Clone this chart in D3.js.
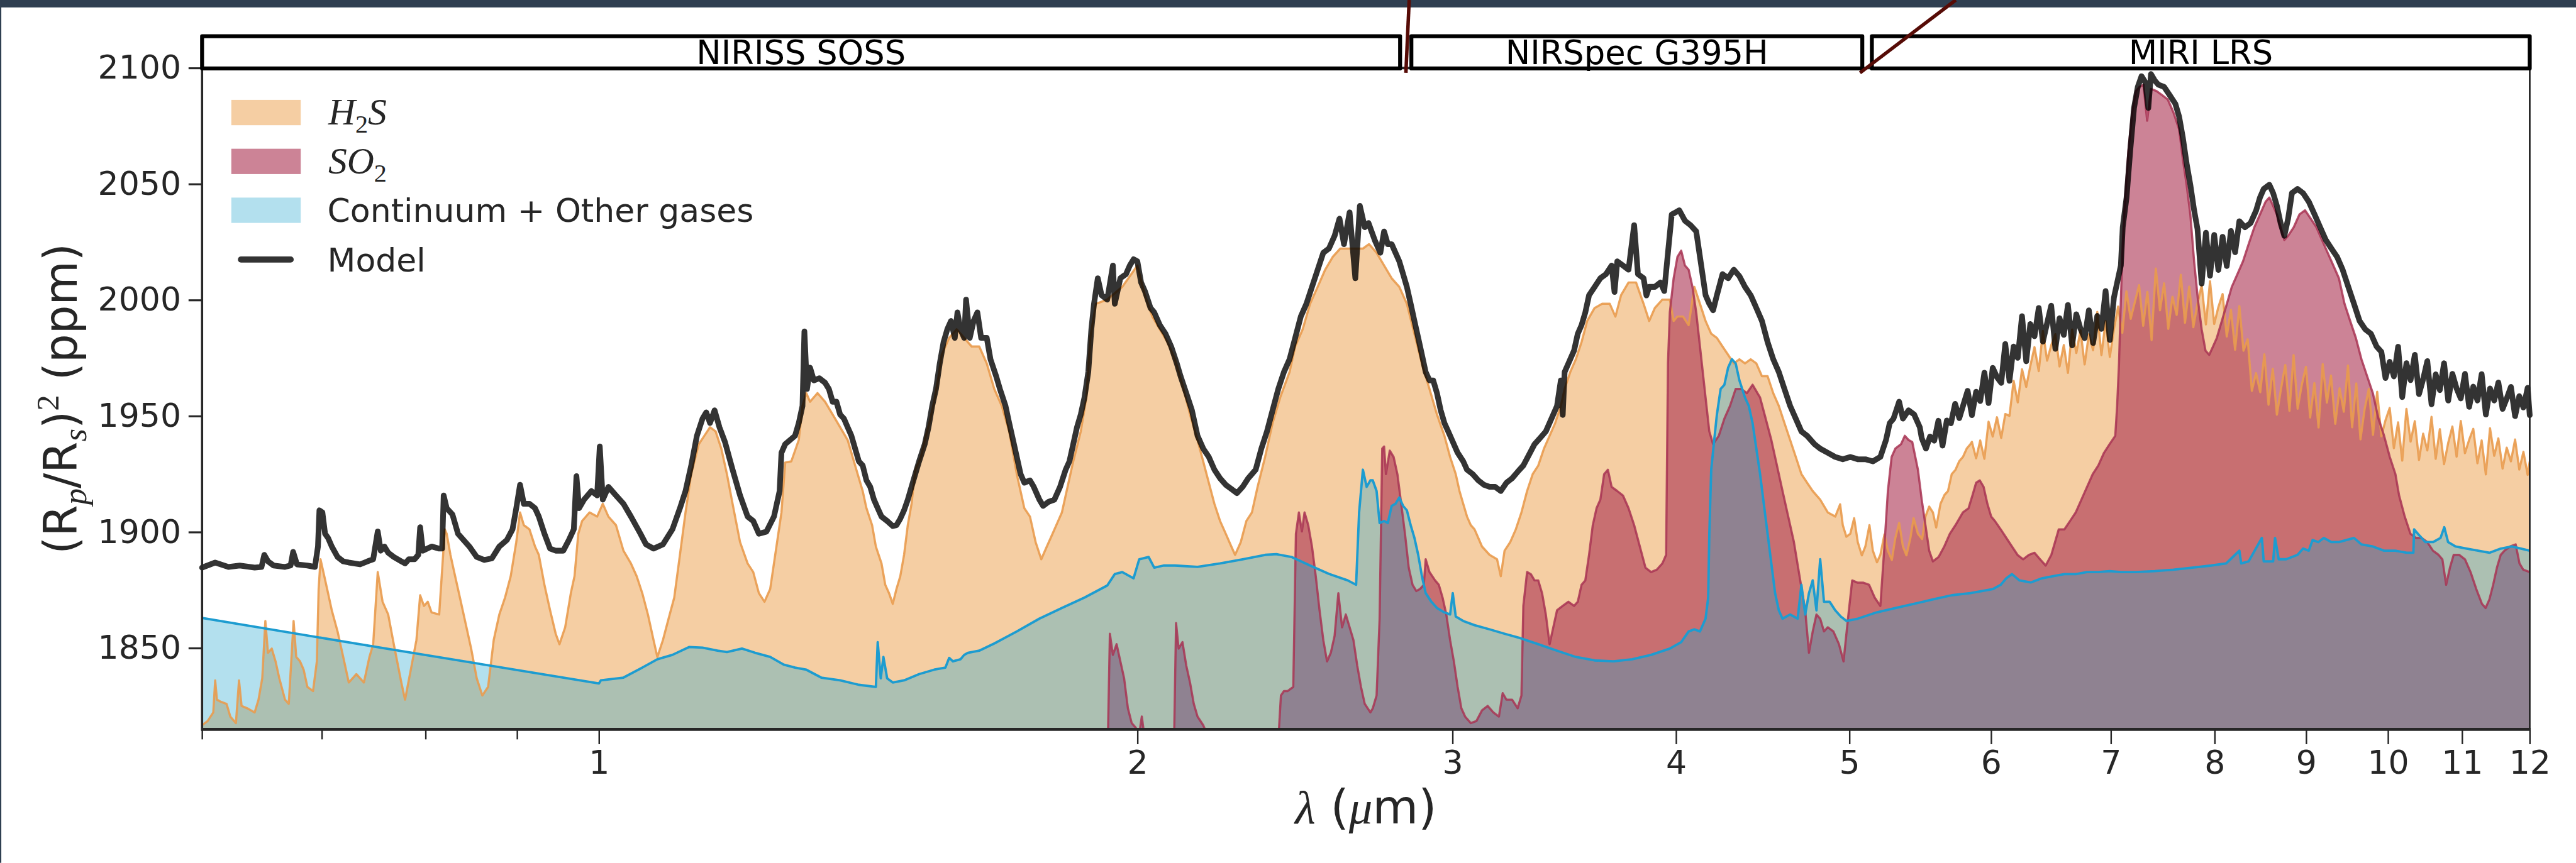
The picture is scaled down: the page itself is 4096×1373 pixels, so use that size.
<!DOCTYPE html>
<html><head><meta charset="utf-8">
<script src="https://cdn.jsdelivr.net/npm/d3@7"></script>
<style>html,body{margin:0;padding:0;background:#fff;overflow:hidden}</style>
</head><body><svg id="chart" width="4096" height="1373"></svg>
<script>
// ---------------- data ----------------
const xMajorTicks = [1,2,3,4,5,6,7,8,9,10,11,12];
const xMinorTicks = [0.6,0.7,0.8,0.9];
const yTicks = [1850,1900,1950,2000,2050,2100];
const instrumentNames = ["NIRISS SOSS","NIRSpec G395H","MIRI LRS"];
const instrumentStart = [0.6, 2.845, 5.146];
const instrumentEnd = [2.804, 5.083, 12];
const legendLabels = ["H2S","SO2","Continuum + Other gases","Model"];
// annotation leader lines (wavelength at top edge, wavelength at box bottom)
const leaderTop = [2.837, 5.733];
const leaderBottom = [2.825, 5.068];

const model = [[0.600,1884.7],[0.6102,1886.9],[0.6207,1885.0],[0.6298,1885.6],[0.6420,1884.7],[0.6477,1885.0],[0.6500,1890.2],[0.6531,1887.4],[0.6579,1885.6],[0.6676,1885.0],[0.6724,1885.6],[0.6746,1891.5],[0.6779,1886.1],[0.6871,1885.6],[0.6938,1885.0],[0.6965,1893.8],[0.6978,1909.4],[0.7005,1908.5],[0.7029,1899.3],[0.7056,1897.5],[0.7090,1893.8],[0.7143,1889.3],[0.7195,1887.4],[0.7247,1886.9],[0.7353,1886.1],[0.7424,1887.4],[0.7478,1888.3],[0.7522,1900.3],[0.7551,1892.0],[0.7587,1893.8],[0.7624,1891.1],[0.7679,1889.3],[0.7754,1887.4],[0.7791,1886.5],[0.7829,1888.3],[0.7887,1888.3],[0.7925,1890.2],[0.7944,1902.1],[0.7971,1892.0],[0.8062,1893.8],[0.8141,1892.9],[0.8172,1892.9],[0.8188,1915.8],[0.8220,1910.3],[0.8281,1907.6],[0.8341,1899.3],[0.8401,1896.6],[0.8463,1893.8],[0.8544,1889.3],[0.8627,1888.0],[0.8712,1888.7],[0.8796,1893.8],[0.8882,1896.6],[0.8947,1901.2],[0.8990,1910.3],[0.9034,1920.4],[0.9078,1912.2],[0.9144,1912.2],[0.9210,1910.3],[0.9255,1906.7],[0.9322,1899.3],[0.9390,1892.9],[0.9458,1892.0],[0.9551,1892.0],[0.9620,1896.6],[0.9681,1901.2],[0.9714,1924.1],[0.9747,1910.3],[0.9809,1914.0],[0.9903,1917.7],[0.9976,1915.8],[1.0010,1936.9],[1.0049,1914.0],[1.0122,1919.5],[1.0221,1915.8],[1.0320,1912.2],[1.0420,1906.7],[1.0548,1899.3],[1.0624,1894.7],[1.0727,1892.9],[1.0858,1894.7],[1.0991,1901.2],[1.1098,1910.3],[1.1178,1917.7],[1.1260,1928.7],[1.1343,1941.5],[1.1425,1948.9],[1.1480,1951.6],[1.1536,1947.0],[1.1604,1952.5],[1.1677,1945.2],[1.1761,1938.8],[1.1876,1926.9],[1.1991,1915.8],[1.2108,1906.7],[1.2196,1904.8],[1.2285,1899.3],[1.2405,1900.2],[1.2526,1906.7],[1.2617,1917.7],[1.2647,1934.2],[1.2708,1937.9],[1.2870,1941.5],[1.2932,1947.0],[1.2994,1954.4],[1.3026,1986.5],[1.3070,1961.7],[1.3121,1970.9],[1.3185,1965.4],[1.3280,1966.3],[1.3377,1964.4],[1.3443,1961.7],[1.3508,1956.2],[1.3574,1956.2],[1.3639,1950.7],[1.3706,1948.9],[1.3772,1945.2],[1.3839,1941.5],[1.3905,1936.0],[1.3972,1930.5],[1.4041,1928.7],[1.4109,1922.3],[1.4178,1919.5],[1.4246,1914.0],[1.4315,1910.3],[1.4385,1906.7],[1.4490,1904.8],[1.4595,1902.6],[1.4665,1903.0],[1.4737,1905.8],[1.4809,1909.4],[1.4880,1914.0],[1.4952,1919.5],[1.5024,1925.0],[1.5098,1930.5],[1.5208,1937.9],[1.5282,1945.2],[1.5355,1954.4],[1.5430,1961.7],[1.5505,1972.7],[1.5581,1981.9],[1.5656,1987.4],[1.5731,1991.0],[1.5808,1983.7],[1.5862,1994.7],[1.5923,1987.4],[1.6001,1983.7],[1.6039,2000.2],[1.6116,1983.7],[1.6195,1991.0],[1.6274,1994.7],[1.6353,1983.7],[1.6472,1983.7],[1.6551,1974.5],[1.6672,1967.2],[1.6753,1961.7],[1.6874,1954.4],[1.6955,1947.0],[1.7038,1939.7],[1.7121,1932.4],[1.7205,1925.0],[1.7288,1921.3],[1.7414,1922.3],[1.7499,1919.5],[1.7626,1914.0],[1.7711,1911.3],[1.7840,1913.1],[1.7970,1914.0],[1.8101,1919.5],[1.8232,1926.9],[1.8321,1930.5],[1.8411,1937.9],[1.8500,1945.2],[1.8590,1950.7],[1.8679,1958.0],[1.8771,1969.0],[1.8845,1987.4],[1.8910,1998.4],[1.9002,2009.4],[1.9095,2002.1],[1.9235,2000.2],[1.9375,2014.9],[1.9422,1998.4],[1.9562,2009.4],[1.9705,2011.2],[1.9802,2014.9],[1.9898,2017.6],[1.9995,2016.7],[2.0091,2007.6],[2.0189,2003.9],[2.0336,1996.6],[2.0434,1994.7],[2.0582,1989.2],[2.0733,1985.5],[2.0884,1980.0],[2.1036,1972.7],[2.1138,1967.2],[2.1294,1959.9],[2.1449,1952.5],[2.1605,1941.5],[2.1763,1936.0],[2.1921,1932.4],[2.2079,1926.9],[2.2241,1923.2],[2.2404,1920.4],[2.2566,1918.6],[2.2730,1916.8],[2.2896,1919.5],[2.3061,1923.2],[2.3284,1926.9],[2.3455,1936.0],[2.3625,1943.4],[2.3796,1952.5],[2.3971,1961.7],[2.4146,1969.0],[2.4321,1974.5],[2.4498,1983.7],[2.4676,1992.9],[2.4854,1998.4],[2.5034,2005.7],[2.5218,2013.1],[2.5401,2020.4],[2.5585,2022.2],[2.5773,2027.7],[2.5936,2035.1],[2.6086,2024.1],[2.6276,2037.8],[2.6470,2009.4],[2.6625,2040.6],[2.6793,2031.4],[2.6923,2033.2],[2.7138,2025.9],[2.7336,2020.4],[2.7468,2029.6],[2.7600,2024.1],[2.7737,2024.1],[2.7874,2020.4],[2.8011,2016.7],[2.8148,2011.2],[2.8285,2005.7],[2.8424,1998.4],[2.8562,1991.0],[2.8701,1983.7],[2.8839,1976.4],[2.8978,1969.0],[2.9120,1965.4],[2.9261,1965.4],[2.9403,1959.9],[2.9544,1952.5],[2.9686,1947.0],[2.9831,1943.4],[2.9977,1939.7],[3.0195,1934.2],[3.0413,1930.5],[3.0562,1926.9],[3.0785,1925.0],[3.1008,1922.3],[3.1233,1920.4],[3.1462,1919.5],[3.1690,1919.5],[3.1919,1917.7],[3.2153,1921.3],[3.2387,1923.2],[3.2621,1926.0],[3.2859,1928.7],[3.3098,1933.3],[3.3337,1937.9],[3.3579,1940.6],[3.3825,1943.4],[3.4070,1948.9],[3.4316,1954.4],[3.4484,1965.4],[3.4569,1950.5],[3.4653,1969.0],[3.4821,1972.7],[3.5074,1978.2],[3.5244,1985.5],[3.5416,1989.2],[3.5588,1994.7],[3.5759,2002.1],[3.6017,2005.7],[3.6283,2009.4],[3.6549,2011.2],[3.6814,2014.9],[3.6950,2003.5],[3.7083,2016.7],[3.7354,2014.9],[3.7624,2013.1],[3.7897,2032.3],[3.8082,2011.2],[3.8360,2009.4],[3.8500,2002.0],[3.8637,2005.7],[3.8919,2005.7],[3.9204,2007.6],[3.9393,2003.9],[3.9582,2020.4],[3.9774,2036.9],[3.9969,2037.8],[4.0164,2038.7],[4.0456,2034.2],[4.0749,2032.3],[4.1048,2029.6],[4.1247,2018.6],[4.1545,2002.1],[4.1746,1998.4],[4.1950,1995.6],[4.2155,2002.1],[4.2461,2011.2],[4.2769,2009.4],[4.3082,2013.1],[4.3394,2010.3],[4.3707,2005.7],[4.4028,2002.1],[4.4350,1996.6],[4.4671,1991.0],[4.4997,1981.9],[4.5325,1974.5],[4.5652,1969.0],[4.5984,1961.7],[4.6322,1954.4],[4.6661,1948.9],[4.6999,1943.4],[4.7344,1941.5],[4.7803,1937.9],[4.8148,1936.0],[4.8620,1934.2],[4.9091,1932.4],[4.9569,1931.4],[5.0052,1932.4],[5.0535,1931.4],[5.1030,1931.4],[5.1525,1930.5],[5.2025,1932.4],[5.2405,1939.7],[5.2658,1947.0],[5.2911,1948.9],[5.3298,1956.2],[5.3558,1948.9],[5.3948,1952.5],[5.4337,1950.7],[5.4736,1945.2],[5.487,1940.5],[5.517,1936.0],[5.546,1941.2],[5.576,1939.4],[5.606,1948.0],[5.636,1937.3],[5.667,1948.1],[5.697,1946.9],[5.728,1955.3],[5.759,1949.1],[5.790,1955.1],[5.821,1960.9],[5.853,1950.4],[5.885,1960.5],[5.916,1956.5],[5.948,1968.7],[5.980,1955.6],[6.012,1970.8],[6.045,1966.8],[6.078,1964.3],[6.110,1981.1],[6.143,1965.2],[6.176,1980.0],[6.209,1975.1],[6.243,1993.1],[6.277,1973.6],[6.310,1989.7],[6.344,1984.4],[6.379,1996.6],[6.413,1982.1],[6.448,1990.1],[6.482,1997.6],[6.517,1979.0],[6.552,1992.2],[6.588,1985.0],[6.623,1997.9],[6.659,1980.5],[6.695,1993.9],[6.731,1987.6],[6.767,1983.6],[6.804,1995.6],[6.841,1981.5],[6.878,1993.2],[6.915,1987.6],[6.952,2003.9],[6.990,1982.8],[7.027,2001.1],[7.090,2014.9],[7.107,2031.4],[7.142,2044.2],[7.176,2064.4],[7.211,2082.8],[7.246,2091.9],[7.281,2096.5],[7.317,2093.8],[7.345,2082.8],[7.370,2097.4],[7.405,2094.7],[7.441,2092.8],[7.496,2091.9],[7.550,2088.3],[7.605,2084.6],[7.642,2079.1],[7.679,2069.9],[7.716,2058.9],[7.753,2049.7],[7.791,2038.7],[7.825,2030.6],[7.867,2007.1],[7.910,2029.0],[7.952,2010.5],[7.995,2028.1],[8.038,2013.0],[8.082,2027.3],[8.125,2014.7],[8.169,2029.8],[8.213,2020.6],[8.258,2034.0],[8.317,2031.4],[8.378,2033.2],[8.439,2038.7],[8.480,2044.2],[8.521,2047.9],[8.583,2049.7],[8.625,2046.1],[8.667,2040.6],[8.708,2033.2],[8.750,2027.7],[8.793,2035.1],[8.836,2046.1],[8.900,2047.9],[8.964,2046.1],[9.030,2042.4],[9.097,2036.9],[9.163,2031.4],[9.230,2025.9],[9.297,2022.2],[9.365,2018.6],[9.432,2013.1],[9.501,2005.7],[9.571,1998.4],[9.640,1991.0],[9.711,1987.4],[9.782,1985.5],[9.853,1980.0],[9.914,1977.7],[9.967,1966.4],[10.021,1973.4],[10.075,1967.1],[10.130,1979.9],[10.184,1958.2],[10.239,1972.8],[10.294,1965.5],[10.350,1976.4],[10.406,1959.5],[10.462,1966.0],[10.518,1973.7],[10.575,1955.1],[10.632,1968.0],[10.689,1961.2],[10.747,1972.8],[10.805,1956.7],[10.863,1968.2],[10.922,1961.9],[10.981,1957.6],[11.040,1968.2],[11.100,1954.0],[11.159,1962.7],[11.219,1956.7],[11.280,1968.1],[11.341,1950.7],[11.402,1961.9],[11.464,1956.7],[11.525,1964.5],[11.588,1953.1],[11.650,1957.6],[11.713,1962.6],[11.776,1950.0],[11.840,1958.6],[11.903,1953.7],[11.968,1962.2],[12.0,1950.4]];

const h2s = [[0.600,1816.8],[0.6043,1818.6],[0.6087,1822.3],[0.6102,1836.1],[0.6116,1827.8],[0.6146,1826.9],[0.6192,1826.0],[0.6222,1820.5],[0.6267,1817.7],[0.6292,1836.1],[0.6313,1825.1],[0.6359,1824.1],[0.6420,1822.3],[0.6452,1827.8],[0.6483,1837.0],[0.6509,1861.7],[0.6531,1848.0],[0.6563,1849.8],[0.6595,1844.3],[0.6627,1837.0],[0.6676,1827.8],[0.6708,1826.0],[0.6750,1861.7],[0.6773,1846.2],[0.6806,1844.3],[0.6838,1840.7],[0.6871,1833.3],[0.6921,1831.5],[0.6955,1844.3],[0.6971,1875.5],[0.6988,1888.3],[0.7022,1881.0],[0.7056,1873.7],[0.7090,1866.3],[0.7143,1857.2],[0.7195,1846.2],[0.7247,1835.2],[0.7318,1838.8],[0.7389,1835.2],[0.7442,1846.2],[0.7478,1851.7],[0.7522,1882.8],[0.7569,1870.0],[0.7624,1864.5],[0.7679,1851.7],[0.7754,1835.2],[0.7791,1827.8],[0.7849,1840.7],[0.7906,1853.5],[0.7944,1872.8],[0.7983,1868.2],[0.8022,1870.0],[0.8062,1865.4],[0.8141,1864.5],[0.8200,1901.2],[0.8220,1899.3],[0.8260,1890.2],[0.8300,1882.8],[0.8361,1871.8],[0.8422,1860.8],[0.8483,1849.8],[0.8544,1837.0],[0.8606,1829.6],[0.8670,1833.3],[0.8733,1853.5],[0.8796,1864.5],[0.8861,1871.8],[0.8926,1881.0],[0.8990,1895.7],[0.9034,1908.5],[0.9078,1903.0],[0.9144,1901.2],[0.9210,1893.8],[0.9255,1890.2],[0.9322,1877.3],[0.9390,1866.3],[0.9458,1856.2],[0.9504,1851.7],[0.9574,1859.0],[0.9644,1873.7],[0.9690,1881.0],[0.9737,1899.3],[0.9785,1904.8],[0.9880,1908.5],[0.9976,1906.7],[1.0049,1912.2],[1.0122,1906.7],[1.0221,1903.0],[1.0320,1892.0],[1.0420,1886.5],[1.0497,1881.0],[1.0573,1873.7],[1.0650,1864.5],[1.0727,1853.5],[1.0780,1846.2],[1.0858,1853.5],[1.0937,1862.7],[1.1017,1871.8],[1.1098,1890.2],[1.1178,1908.5],[1.1260,1925.0],[1.1370,1937.9],[1.1452,1941.5],[1.1536,1945.2],[1.1620,1943.4],[1.1705,1936.0],[1.1790,1925.0],[1.1876,1912.2],[1.1991,1895.7],[1.2108,1886.5],[1.2196,1882.8],[1.2285,1873.7],[1.2374,1870.0],[1.2465,1875.5],[1.2556,1892.0],[1.2647,1908.5],[1.2708,1930.0],[1.2808,1930.5],[1.2932,1939.7],[1.2994,1954.4],[1.3058,1959.9],[1.3121,1956.2],[1.3248,1959.9],[1.3377,1956.2],[1.3508,1950.7],[1.3639,1945.2],[1.3772,1939.7],[1.3905,1928.7],[1.4041,1917.7],[1.4109,1910.3],[1.4212,1903.0],[1.4281,1893.8],[1.4385,1886.5],[1.4455,1877.3],[1.4525,1873.7],[1.4595,1869.1],[1.4665,1875.5],[1.4737,1881.0],[1.4809,1890.2],[1.4880,1903.0],[1.4952,1912.2],[1.5024,1926.9],[1.5134,1932.4],[1.5208,1939.7],[1.5318,1948.9],[1.5392,1956.2],[1.5467,1965.4],[1.5543,1976.4],[1.5694,1983.7],[1.5846,1987.4],[1.6001,1983.7],[1.6155,1980.0],[1.6313,1980.0],[1.6472,1972.7],[1.6632,1961.7],[1.6793,1954.4],[1.6955,1943.4],[1.7121,1925.0],[1.7288,1910.3],[1.7414,1906.7],[1.7541,1895.7],[1.7669,1888.3],[1.7796,1893.8],[1.7927,1899.3],[1.8057,1904.8],[1.8145,1908.5],[1.8277,1919.5],[1.8411,1930.5],[1.8590,1943.4],[1.8725,1958.0],[1.8817,1983.7],[1.8956,1998.4],[1.9235,2000.2],[1.9609,2005.7],[1.9995,2014.9],[2.0189,2002.1],[2.0385,1992.9],[2.0582,1987.4],[2.0784,1981.9],[2.0985,1974.5],[2.1190,1963.5],[2.1397,1950.7],[2.1605,1939.7],[2.1763,1930.5],[2.1921,1921.3],[2.2079,1912.2],[2.2241,1904.8],[2.2404,1899.3],[2.2566,1893.8],[2.2675,1890.2],[2.2841,1895.7],[2.3006,1904.8],[2.3172,1908.5],[2.3341,1919.5],[2.3568,1932.4],[2.3796,1947.0],[2.4029,1958.0],[2.4321,1969.0],[2.4498,1980.0],[2.4735,1987.4],[2.4973,1998.4],[2.5218,2005.7],[2.5463,2013.1],[2.5710,2018.6],[2.5961,2022.2],[2.6211,2022.2],[2.6470,2022.2],[2.6729,2022.2],[2.6940,2024.1],[2.7204,2020.4],[2.7468,2014.9],[2.7737,2009.4],[2.8011,2005.7],[2.8285,1998.4],[2.8562,1985.5],[2.8839,1972.7],[2.9120,1961.7],[2.9403,1950.7],[2.9686,1941.5],[2.9904,1932.4],[3.0122,1925.0],[3.0268,1917.7],[3.0413,1912.2],[3.0562,1906.7],[3.0711,1903.0],[3.0859,1901.2],[3.1008,1897.5],[3.1157,1893.8],[3.1462,1890.2],[3.1767,1888.3],[3.1919,1881.0],[3.2075,1892.0],[3.2309,1895.7],[3.2543,1901.2],[3.2779,1908.5],[3.3018,1917.7],[3.3258,1925.0],[3.3497,1928.7],[3.3743,1936.0],[3.3989,1941.5],[3.4234,1947.0],[3.4484,1954.4],[3.4653,1961.7],[3.4905,1969.0],[3.5158,1974.5],[3.5416,1981.9],[3.5673,1991.0],[3.6017,1996.6],[3.6371,1998.4],[3.6726,1998.4],[3.6993,1992.9],[3.7263,2002.1],[3.7624,2007.6],[3.7989,2007.6],[3.8360,1998.4],[3.8637,1991.0],[3.8919,1996.6],[3.9298,2000.2],[3.9677,2000.2],[3.9872,1991.0],[4.0067,1992.9],[4.0358,1992.9],[4.0650,1989.2],[4.0948,2005.7],[4.1247,1998.4],[4.1545,1991.0],[4.1848,1985.5],[4.2155,1983.7],[4.2461,1980.0],[4.2769,1976.4],[4.3082,1972.7],[4.3394,1974.5],[4.3707,1972.7],[4.4028,1974.5],[4.4350,1972.7],[4.4671,1967.2],[4.4997,1967.2],[4.5325,1959.9],[4.5652,1954.4],[4.5984,1947.0],[4.6322,1939.7],[4.6661,1932.4],[4.6999,1925.0],[4.7344,1921.3],[4.7688,1917.7],[4.8148,1914.0],[4.8620,1908.5],[4.9091,1906.7],[4.94,1912.0],[4.9569,1903.0],[4.98,1898.0],[5.0052,1899.3],[5.03,1906.0],[5.0535,1895.7],[5.08,1890.0],[5.1030,1893.8],[5.13,1903.0],[5.1525,1892.0],[5.18,1887.0],[5.2025,1890.2],[5.23,1899.0],[5.2531,1892.0],[5.28,1888.0],[5.3038,1897.5],[5.33,1904.0],[5.3558,1893.8],[5.38,1890.0],[5.4077,1897.5],[5.43,1906.0],[5.4603,1899.3],[5.49,1897.0],[5.5134,1906.7],[5.54,1911.0],[5.5666,1908.5],[5.59,1902.0],[5.6212,1912.2],[5.65,1916.0],[5.6757,1917.7],[5.703,1925.0],[5.731,1926.9],[5.758,1930.5],[5.786,1932.4],[5.814,1936.0],[5.842,1937.9],[5.853,1938.9],[5.885,1931.8],[5.916,1939.5],[5.948,1931.6],[5.980,1947.6],[6.012,1941.2],[6.045,1949.5],[6.078,1940.6],[6.110,1950.9],[6.143,1950.1],[6.176,1965.2],[6.209,1955.9],[6.243,1970.2],[6.277,1962.6],[6.310,1971.6],[6.344,1979.7],[6.379,1969.4],[6.413,1986.7],[6.448,1973.9],[6.482,1980.5],[6.517,1985.3],[6.552,1971.4],[6.588,1980.6],[6.623,1968.6],[6.659,1987.3],[6.695,1977.2],[6.731,1987.0],[6.767,1972.3],[6.804,1985.3],[6.841,1978.4],[6.878,1994.9],[6.915,1976.3],[6.952,1991.0],[6.990,1975.5],[7.027,1987.6],[7.065,1997.2],[7.103,1985.9],[7.141,2003.8],[7.180,1991.9],[7.219,1999.2],[7.258,2006.4],[7.297,1988.9],[7.336,2003.5],[7.376,1982.8],[7.416,2013.6],[7.456,1995.6],[7.496,2007.2],[7.536,1987.6],[7.577,2001.4],[7.618,1993.6],[7.659,2010.9],[7.700,1990.2],[7.742,2005.8],[7.783,1988.3],[7.825,1998.5],[7.867,2006.3],[7.910,1989.5],[7.952,2008.1],[7.995,1989.7],[8.038,1997.0],[8.082,2002.6],[8.125,1984.3],[8.169,1995.8],[8.213,1978.6],[8.258,1997.4],[8.302,1978.2],[8.347,1983.1],[8.392,1960.9],[8.437,1968.5],[8.483,1960.3],[8.528,1976.6],[8.574,1954.9],[8.621,1970.4],[8.667,1950.6],[8.714,1962.1],[8.761,1972.0],[8.808,1952.3],[8.855,1976.3],[8.901,1953.2],[8.949,1963.5],[8.997,1971.2],[9.046,1949.4],[9.095,1964.2],[9.144,1945.1],[9.193,1972.4],[9.243,1955.8],[9.292,1967.5],[9.343,1946.7],[9.395,1962.0],[9.446,1951.9],[9.497,1971.8],[9.548,1945.2],[9.599,1964.1],[9.651,1940.0],[9.703,1953.1],[9.755,1961.7],[9.808,1941.9],[9.861,1960.5],[9.914,1941.3],[9.967,1948.2],[10.021,1953.5],[10.075,1936.2],[10.130,1947.3],[10.184,1930.8],[10.239,1953.1],[10.294,1939.0],[10.350,1947.8],[10.406,1931.1],[10.462,1942.4],[10.518,1935.2],[10.575,1949.7],[10.632,1931.6],[10.689,1944.4],[10.747,1929.3],[10.805,1938.5],[10.863,1945.5],[10.922,1932.5],[10.981,1947.9],[11.040,1934.0],[11.100,1939.8],[11.159,1944.5],[11.219,1929.7],[11.280,1939.5],[11.341,1924.9],[11.402,1944.8],[11.464,1932.9],[11.525,1940.4],[11.588,1927.4],[11.650,1936.4],[11.713,1930.5],[11.776,1939.9],[11.840,1927.0],[11.903,1934.6],[11.968,1924.7],[12.0,1930.4]];

const so2 = [[0.6,1800],[1.924,1800],[1.9253,1813],[1.9300,1856.2],[1.9375,1847.1],[1.9468,1851.7],[1.9562,1844.3],[1.9657,1837.0],[1.9753,1824.1],[1.9850,1817.7],[1.9946,1815.9],[2.0043,1813],[2.0110,1820.5],[2.0169,1813],[2.018,1800],[2.095,1800],[2.0965,1813],[2.1016,1860.8],[2.1086,1849.8],[2.1190,1852.6],[2.1294,1842.5],[2.1397,1835.2],[2.1501,1826.0],[2.1605,1820.5],[2.1763,1816.8],[2.1868,1813],[2.188,1800],[2.397,1800],[2.3983,1813],[2.4053,1829.6],[2.4146,1831.5],[2.4263,1831.5],[2.4438,1833.3],[2.4521,1899.3],[2.4616,1908.5],[2.4711,1900.3],[2.4795,1908.5],[2.4914,1903.0],[2.5034,1893.8],[2.5156,1881.0],[2.5279,1866.3],[2.5401,1853.5],[2.5524,1844.3],[2.5648,1848.0],[2.5773,1855.3],[2.5898,1873.7],[2.6023,1859.0],[2.6148,1864.5],[2.6276,1859.0],[2.6405,1853.5],[2.6535,1842.5],[2.6664,1833.3],[2.6793,1826.0],[2.6988,1822.3],[2.7072,1824.1],[2.7204,1829.6],[2.7310,1862.7],[2.7402,1936.0],[2.7468,1936.9],[2.7534,1925.0],[2.7669,1935.1],[2.7806,1932.4],[2.7943,1925.0],[2.8080,1912.2],[2.8217,1899.3],[2.8354,1884.7],[2.8493,1877.3],[2.8632,1874.6],[2.8770,1875.5],[2.8909,1877.3],[2.8978,1888.3],[2.9120,1882.8],[2.9332,1879.2],[2.9474,1877.3],[2.9615,1871.8],[2.9759,1864.5],[2.9904,1853.5],[3.0049,1844.3],[3.0195,1833.3],[3.0340,1824.1],[3.0487,1820.5],[3.0711,1817.7],[3.0934,1818.6],[3.1157,1823.2],[3.1386,1825.1],[3.1614,1822.3],[3.1843,1820.5],[3.1997,1830.6],[3.2153,1827.8],[3.2387,1827.8],[3.2621,1824.1],[3.2779,1829.6],[3.2859,1868.2],[3.3018,1882.8],[3.3178,1881.9],[3.3337,1879.2],[3.3497,1879.2],[3.3661,1873.7],[3.3825,1864.5],[3.3989,1851.7],[3.4152,1859.0],[3.4316,1866.3],[3.4569,1868.2],[3.4821,1870.0],[3.5074,1868.2],[3.5244,1870.0],[3.5416,1877.3],[3.5588,1879.2],[3.5759,1890.2],[3.5931,1903.0],[3.6106,1910.3],[3.6283,1914.0],[3.6460,1925.0],[3.6637,1926.9],[3.6814,1919.5],[3.7083,1917.7],[3.7354,1915.8],[3.7624,1910.3],[3.7897,1903.0],[3.8175,1893.8],[3.8452,1884.7],[3.8730,1882.8],[3.9014,1883.8],[3.9298,1886.5],[3.9488,1890.2],[3.9582,1972.7],[3.9677,1994.7],[3.9872,2009.4],[4.0067,2018.6],[4.0261,2021.3],[4.0456,2014.9],[4.0650,2013.1],[4.0849,2005.7],[4.1048,1994.7],[4.1247,1980.0],[4.1545,1958.0],[4.1746,1943.4],[4.1950,1937.9],[4.2257,1941.5],[4.2563,1948.9],[4.2873,1954.4],[4.3186,1961.7],[4.3499,1961.7],[4.3814,1959.9],[4.4136,1963.5],[4.4564,1958.0],[4.4887,1948.9],[4.5215,1939.7],[4.5543,1928.7],[4.5871,1917.7],[4.6209,1906.7],[4.6548,1895.7],[4.6886,1881.0],[4.7229,1866.3],[4.7459,1848.0],[4.7688,1857.2],[4.7918,1864.5],[4.8148,1862.7],[4.8384,1857.2],[4.8620,1859.0],[4.8974,1857.2],[4.9327,1851.7],[4.9617,1844.3],[4.9931,1864.5],[5.0173,1879.2],[5.0535,1878.2],[5.0906,1878.2],[5.1277,1877.3],[5.1648,1871.8],[5.2025,1868.2],[5.2278,1892.0],[5.2531,1917.7],[5.2785,1932.4],[5.3038,1936.0],[5.3428,1937.9],[5.3688,1941.5],[5.3948,1939.7],[5.4207,1938.8],[5.4603,1926.9],[5.4869,1914.0],[5.5134,1903.0],[5.5400,1892.0],[5.5666,1887.4],[5.6075,1889.3],[5.6484,1893.8],[5.6894,1899.3],[5.7304,1903.0],[5.786,1908.5],[5.828,1910.3],[5.857,1915.8],[5.885,1921.3],[5.913,1922.3],[5.942,1919.5],[5.971,1912.2],[6.000,1906.7],[6.029,1904.8],[6.074,1901.2],[6.118,1897.5],[6.163,1893.8],[6.207,1890.2],[6.252,1888.3],[6.298,1890.2],[6.344,1891.1],[6.390,1888.3],[6.436,1885.6],[6.483,1890.2],[6.514,1895.7],[6.545,1901.2],[6.593,1901.2],[6.641,1904.8],[6.690,1908.5],[6.739,1914.0],[6.788,1919.5],[6.838,1925.0],[6.887,1928.7],[6.938,1934.2],[6.988,1937.9],[7.039,1941.5],[7.056,1954.4],[7.073,1972.7],[7.090,2000.2],[7.107,2024.1],[7.124,2040.6],[7.159,2064.4],[7.194,2080.9],[7.228,2090.1],[7.263,2091.9],[7.299,2092.8],[7.334,2077.3],[7.370,2091.0],[7.423,2090.1],[7.477,2088.3],[7.532,2086.4],[7.586,2080.9],[7.642,2073.6],[7.679,2060.7],[7.716,2049.7],[7.753,2036.9],[7.791,2016.7],[7.829,2000.2],[7.867,1987.4],[7.906,1978.2],[7.944,1976.4],[7.983,1980.0],[8.022,1983.7],[8.061,1989.2],[8.100,1994.7],[8.139,2000.2],[8.178,2005.7],[8.238,2011.2],[8.297,2016.7],[8.357,2024.1],[8.419,2031.4],[8.480,2036.9],[8.542,2042.4],[8.583,2044.2],[8.625,2040.6],[8.667,2036.9],[8.708,2031.4],[8.750,2025.9],[8.793,2027.7],[8.857,2031.4],[8.922,2036.9],[8.986,2038.7],[9.052,2035.1],[9.119,2031.4],[9.185,2025.9],[9.252,2020.4],[9.320,2014.9],[9.387,2009.4],[9.455,1998.4],[9.524,1991.0],[9.594,1983.7],[9.663,1974.5],[9.734,1967.2],[9.806,1959.9],[9.877,1948.9],[9.949,1941.5],[10.022,1932.4],[10.095,1925.0],[10.143,1915.8],[10.217,1906.7],[10.292,1899.3],[10.366,1897.5],[10.442,1897.5],[10.518,1895.7],[10.595,1892.0],[10.672,1890.2],[10.724,1888.3],[10.776,1877.3],[10.829,1884.7],[10.881,1890.2],[10.960,1890.2],[11.040,1888.3],[11.120,1882.8],[11.202,1875.5],[11.284,1869.1],[11.338,1867.3],[11.393,1871.0],[11.448,1877.3],[11.504,1884.7],[11.560,1890.2],[11.616,1892.0],[11.700,1893.8],[11.785,1894.7],[11.843,1886.5],[11.901,1883.8],[12.0,1882.8]];

const continuum = [[0.600,1863.0],[0.7605,1849.8],[1.0000,1834.8],[1.0024,1836.1],[1.0320,1837.3],[1.0573,1841.6],[1.0780,1845.2],[1.0991,1847.1],[1.1233,1850.5],[1.1425,1850.2],[1.1648,1848.9],[1.1790,1848.3],[1.2020,1849.8],[1.2226,1848.0],[1.2465,1846.2],[1.2684,1842.9],[1.2870,1841.6],[1.3058,1840.7],[1.3312,1837.3],[1.3639,1836.1],[1.3972,1834.2],[1.4281,1833.3],[1.4315,1852.6],[1.4371,1837.0],[1.4420,1846.2],[1.4490,1837.0],[1.4595,1835.2],[1.4809,1836.1],[1.5098,1838.8],[1.5392,1840.7],[1.5618,1841.6],[1.5694,1845.8],[1.5769,1844.3],[1.5923,1845.2],[1.6001,1847.1],[1.6078,1848.0],[1.6313,1848.9],[1.6632,1852.0],[1.7121,1857.2],[1.7626,1862.7],[1.8145,1867.3],[1.8679,1871.8],[1.9235,1877.0],[1.9422,1881.9],[1.9609,1882.8],[1.9898,1880.1],[2.0043,1888.3],[2.0287,1889.3],[2.0434,1884.7],[2.0683,1885.6],[2.0985,1885.6],[2.1605,1885.0],[2.2241,1886.5],[2.2896,1888.3],[2.3568,1890.2],[2.3912,1890.5],[2.4379,1889.3],[2.4973,1885.6],[2.5585,1882.0],[2.6211,1879.2],[2.6496,1877.3],[2.6599,1908.5],[2.6729,1926.9],[2.6858,1919.5],[2.6988,1922.3],[2.7072,1922.3],[2.7204,1917.7],[2.7310,1903.9],[2.7468,1904.8],[2.7600,1903.9],[2.7737,1911.3],[2.7874,1912.2],[2.8011,1914.9],[2.8148,1911.3],[2.8285,1909.4],[2.8424,1903.0],[2.8562,1897.5],[2.8701,1890.2],[2.8839,1881.0],[2.8978,1873.7],[2.9191,1870.0],[2.9403,1867.3],[2.9686,1865.4],[2.9904,1864.5],[3.0006,1873.7],[3.0122,1863.6],[3.0413,1861.7],[3.0859,1859.9],[3.1462,1858.1],[3.2075,1856.2],[3.2699,1854.4],[3.3497,1851.7],[3.4316,1848.9],[3.5158,1846.2],[3.6017,1844.7],[3.6903,1844.3],[3.7804,1845.2],[3.8730,1847.1],[3.9677,1849.8],[4.0261,1852.6],[4.0650,1857.2],[4.0948,1858.1],[4.1247,1857.2],[4.1545,1862.7],[4.1685,1871.8],[4.1746,1899.3],[4.1848,1926.9],[4.2011,1939.7],[4.2155,1950.7],[4.2359,1961.7],[4.2563,1963.5],[4.2769,1970.9],[4.2978,1974.5],[4.3186,1972.7],[4.3394,1965.4],[4.3707,1958.0],[4.3921,1954.4],[4.4136,1947.0],[4.4350,1936.0],[4.4564,1925.0],[4.4778,1912.2],[4.4997,1899.3],[4.5215,1886.5],[4.5434,1873.7],[4.5652,1866.3],[4.5871,1862.7],[4.6322,1864.5],[4.6773,1862.7],[4.6999,1877.3],[4.7229,1864.5],[4.7459,1873.7],[4.7688,1879.2],[4.7918,1866.3],[4.8148,1888.3],[4.8384,1870.0],[4.8738,1870.0],[4.9091,1866.3],[4.9448,1863.6],[4.9810,1861.7],[5.0535,1862.7],[5.1772,1865.4],[5.3038,1867.3],[5.4337,1869.1],[5.5666,1871.0],[5.7030,1872.8],[5.842,1873.7],[5.928,1874.6],[6.015,1875.5],[6.074,1877.3],[6.118,1880.1],[6.163,1881.9],[6.222,1879.2],[6.313,1878.3],[6.405,1880.1],[6.499,1881.0],[6.593,1881.9],[6.690,1881.9],[6.788,1882.8],[6.887,1882.8],[6.988,1883.2],[7.090,1882.8],[7.228,1882.8],[7.405,1883.2],[7.586,1883.8],[7.772,1884.7],[7.963,1885.6],[8.119,1886.5],[8.258,1892.0],[8.278,1886.5],[8.357,1887.4],[8.501,1897.5],[8.521,1887.4],[8.625,1887.4],[8.646,1897.5],[8.687,1888.3],[8.771,1888.3],[8.900,1890.2],[8.964,1892.9],[9.030,1892.0],[9.074,1896.6],[9.141,1895.7],[9.207,1897.5],[9.297,1895.7],[9.387,1895.7],[9.478,1896.6],[9.571,1897.5],[9.663,1894.7],[9.806,1893.8],[9.949,1892.0],[10.095,1892.0],[10.242,1891.1],[10.331,1891.1],[10.341,1901.2],[10.391,1899.3],[10.493,1895.7],[10.595,1895.7],[10.698,1897.5],[10.750,1902.1],[10.803,1895.7],[10.907,1893.8],[11.067,1892.9],[11.229,1892.0],[11.393,1891.1],[11.560,1892.9],[11.728,1893.8],[12.0,1892.0]];

// ---------------- drawing ----------------
const W = 5902, H = 1978, S = 4096 / W;
const svg = d3.select("#chart");
const g = svg.append("g").attr("transform", `scale(${S})`);
g.append("rect").attr("width", W).attr("height", H).attr("fill", "#ffffff");

const plot = {left: 463, right: 5796, top: 156, bottom: 1672};
const x = d3.scaleLog().domain([0.6, 12]).range([plot.left, plot.right]);
const y = d3.scaleLinear().domain([1815, 2100]).range([plot.bottom, plot.top]);

const FONT = "DejaVu Sans";
const INK = "#262626";

g.append("clipPath").attr("id", "clip").append("rect")
  .attr("x", plot.left).attr("y", plot.top)
  .attr("width", plot.right - plot.left).attr("height", plot.bottom - plot.top);

const area = d3.area().x(d => x(d[0])).y0(plot.bottom + 5).y1(d => y(d[1]));
const line = d3.line().x(d => x(d[0])).y(d => y(d[1]));

const styles = {
  h2s: {fill: "rgb(236,157,72)", fo: 0.5, stroke: "#e99b4e", so: 0.9, sw: 5},
  so2: {fill: "rgb(170,48,80)", fo: 0.6, stroke: "#a83454", so: 0.85, sw: 5},
  cont: {fill: "rgb(38,166,206)", fo: 0.35, stroke: "#1d9cd0", so: 1, sw: 5.5}
};

const pg = g.append("g").attr("clip-path", "url(#clip)");
pg.append("path").datum(h2s).attr("d", area).attr("fill", styles.h2s.fill).attr("fill-opacity", styles.h2s.fo);
pg.append("path").datum(so2).attr("d", area).attr("fill", styles.so2.fill).attr("fill-opacity", styles.so2.fo);
pg.append("path").datum(continuum).attr("d", area).attr("fill", styles.cont.fill).attr("fill-opacity", styles.cont.fo);
pg.append("path").datum(h2s).attr("d", line).attr("fill", "none").attr("stroke", styles.h2s.stroke).attr("stroke-opacity", styles.h2s.so).attr("stroke-width", styles.h2s.sw).attr("stroke-linejoin", "round");
pg.append("path").datum(so2).attr("d", line).attr("fill", "none").attr("stroke", styles.so2.stroke).attr("stroke-opacity", styles.so2.so).attr("stroke-width", styles.so2.sw).attr("stroke-linejoin", "round");
pg.append("path").datum(continuum).attr("d", line).attr("fill", "none").attr("stroke", styles.cont.stroke).attr("stroke-opacity", styles.cont.so).attr("stroke-width", styles.cont.sw).attr("stroke-linejoin", "round");
g.append("path").datum(model).attr("d", line).attr("fill", "none").attr("stroke", "#000").attr("stroke-opacity", 0.8).attr("stroke-width", 13).attr("stroke-linejoin", "round").attr("stroke-linecap", "round");

// axes
const xAxis = g.append("g").attr("transform", `translate(0,${plot.bottom})`)
  .call(d3.axisBottom(x).tickValues(xMajorTicks).tickFormat(d3.format("d")).tickSize(34).tickPadding(14));
const xMinor = g.append("g").attr("transform", `translate(0,${plot.bottom})`)
  .call(d3.axisBottom(x).tickValues(xMinorTicks).tickFormat("").tickSize(23));
const yAxis = g.append("g").attr("transform", `translate(${plot.left},0)`)
  .call(d3.axisLeft(y).tickValues(yTicks).tickFormat(d3.format("d")).tickSize(31).tickPadding(17));
[xAxis, xMinor, yAxis].forEach(a => {
  a.select(".domain").remove();
  a.selectAll(".tick line").attr("stroke", INK).attr("stroke-width", 3.5);
  a.selectAll(".tick text").attr("fill", INK).attr("font-family", FONT).attr("font-size", 75);
});
yAxis.selectAll(".tick line").attr("stroke-width", 4.5);

// spines
g.append("line").attr("x1", plot.left).attr("x2", plot.left).attr("y1", plot.top).attr("y2", plot.bottom + 3).attr("stroke", INK).attr("stroke-width", 5);
g.append("line").attr("x1", plot.right).attr("x2", plot.right).attr("y1", plot.top).attr("y2", plot.bottom).attr("stroke", INK).attr("stroke-width", 4);
g.append("line").attr("x1", plot.left - 2).attr("x2", plot.right + 2).attr("y1", plot.bottom).attr("y2", plot.bottom).attr("stroke", INK).attr("stroke-width", 7);
g.append("line").attr("x1", plot.left).attr("x2", plot.right).attr("y1", plot.top).attr("y2", plot.top).attr("stroke", INK).attr("stroke-width", 6);

// instrument boxes
instrumentNames.forEach((name, i) => {
  const x0 = x(instrumentStart[i]), x1 = x(instrumentEnd[i]);
  g.append("rect").attr("x", x0).attr("y", 83).attr("width", x1 - x0).attr("height", 74)
    .attr("fill", "none").attr("stroke", "#000").attr("stroke-width", 9).attr("stroke-linejoin", "round");
  g.append("text").attr("x", (x0 + x1) / 2).attr("y", 147).attr("text-anchor", "middle")
    .attr("font-family", FONT).attr("font-size", 76).attr("fill", "#000").text(name);
});

// legend
const legendY = [258, 370, 482, 595];
const legendFills = [styles.h2s, styles.so2, styles.cont];
legendFills.forEach((s, i) => {
  g.append("rect").attr("x", 530).attr("y", legendY[i] - 29).attr("width", 159).attr("height", 58)
    .attr("fill", s.fill).attr("fill-opacity", s.fo);
});
g.append("line").attr("x1", 552).attr("x2", 666).attr("y1", legendY[3]).attr("y2", legendY[3])
  .attr("stroke", "#000").attr("stroke-opacity", 0.8).attr("stroke-width", 14).attr("stroke-linecap", "round");

const lt0 = g.append("text").attr("x", 752).attr("y", legendY[0] + 28).attr("font-size", 86).attr("fill", INK);
lt0.append("tspan").attr("font-family", "Liberation Serif").attr("font-style", "italic").text("H");
lt0.append("tspan").attr("font-family", "Liberation Serif").attr("font-size", 58).attr("dy", 18).text("2");
lt0.append("tspan").attr("font-family", "Liberation Serif").attr("font-style", "italic").attr("dy", -18).text("S");
const lt1 = g.append("text").attr("x", 752).attr("y", legendY[1] + 28).attr("font-size", 86).attr("fill", INK);
lt1.append("tspan").attr("font-family", "Liberation Serif").attr("font-style", "italic").text("SO");
lt1.append("tspan").attr("font-family", "Liberation Serif").attr("font-size", 58).attr("dy", 18).text("2");
g.append("text").attr("x", 750).attr("y", legendY[2] + 27).attr("font-family", FONT).attr("font-size", 75).attr("fill", INK).text(legendLabels[2]);
g.append("text").attr("x", 750).attr("y", legendY[3] + 27).attr("font-family", FONT).attr("font-size", 75).attr("fill", INK).text(legendLabels[3]);

// axis labels
const xl = g.append("text").attr("x", (plot.left + plot.right) / 2).attr("y", 1888).attr("text-anchor", "middle")
  .attr("font-family", FONT).attr("font-size", 108).attr("fill", INK);
xl.append("tspan").attr("font-family", "Liberation Serif").attr("font-style", "italic").text("λ");
xl.append("tspan").text(" (");
xl.append("tspan").attr("font-family", "Liberation Serif").attr("font-style", "italic").text("μ");
xl.append("tspan").text("m)");

const yl = g.append("text").attr("transform", `translate(176,${(plot.top + plot.bottom) / 2}) rotate(-90)`).attr("text-anchor", "middle")
  .attr("font-family", FONT).attr("font-size", 104).attr("fill", INK);
yl.append("tspan").text("(R");
yl.append("tspan").attr("font-family", "Liberation Serif").attr("font-style", "italic").attr("font-size", 76).attr("dy", 22).text("p");
yl.append("tspan").attr("dy", -22).text("/R");
yl.append("tspan").attr("font-family", "Liberation Serif").attr("font-style", "italic").attr("font-size", 76).attr("dy", 22).text("s");
yl.append("tspan").attr("dy", -22).text(")");
yl.append("tspan").attr("font-family", "Liberation Serif").attr("font-size", 74).attr("dy", -42).text("2");
yl.append("tspan").attr("dy", 42).text(" (ppm)");

// frame decorations: top band and left edge
g.append("rect").attr("x", 0).attr("y", 0).attr("width", W).attr("height", 17).attr("fill", "#2f3f51");
g.append("rect").attr("x", 0).attr("y", 0).attr("width", 3).attr("height", H).attr("fill", "#2f3f51");

// leader lines from the panel above
leaderTop.forEach((t, i) => {
  g.append("line").attr("x1", x(t)).attr("y1", 0).attr("x2", x(leaderBottom[i])).attr("y2", 167)
    .attr("stroke", "#560b06").attr("stroke-width", 8);
});
</script>
</body></html>
